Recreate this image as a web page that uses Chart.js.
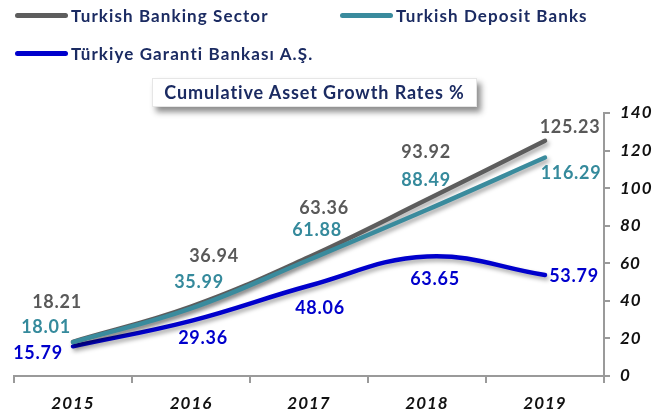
<!DOCTYPE html>
<html>
<head>
<meta charset="utf-8">
<script src="https://cdn.jsdelivr.net/npm/chart.js@4"></script>
<style>
  body { margin: 0; background: #fff; }
  #wrap { position: relative; width: 667px; height: 412px; font-family: Lato, sans-serif; }
  #wrap canvas { position: absolute; left: 0; top: 0; }
  .leg { position: absolute; display: flex; align-items: center; font-weight: bold; font-size: 17px; letter-spacing: 1.1px; color: #1b2b62; white-space: nowrap; }
  .leg span.ln { display: inline-block; width: 53px; height: 5px; border-radius: 3px; margin-right: 3px; }
  #title { position: absolute; left: 152px; top: 78px; width: 325px; height: 29px; background: #fff;
    border: 1px solid #e6e6e6; box-shadow: 4px 5px 6px rgba(0,0,0,0.45); box-sizing: border-box;
    font-weight: bold; font-size: 18px; letter-spacing: 0.9px; color: #1b2b62; text-align: center; line-height: 27px; }
</style>
</head>
<body>
<div id="wrap">
  <canvas id="chart" width="667" height="412"></canvas>
  <div class="leg" style="left:15px;top:5px"><span class="ln" style="background:#5d5d5d"></span>Turkish Banking Sector</div>
  <div class="leg" style="left:340px;top:5px"><span class="ln" style="background:#3a8b9d"></span>Turkish Deposit Banks</div>
  <div class="leg" style="left:15px;top:43px"><span class="ln" style="background:#0000cc"></span>Türkiye Garanti Bankası A.Ş.</div>
  <div id="title">Cumulative Asset Growth Rates %</div>
</div>
<script>
// data
const years = ['2015', '2016', '2017', '2018', '2019'];
const bankingSector = [18.21, 36.94, 63.36, 93.92, 125.23];
const depositBanks = [18.01, 35.99, 61.88, 88.49, 116.29];
const garanti = [15.79, 29.36, 48.06, 63.65, 53.79];

// where each value label sits relative to its point (px)
const grayOffsets = [[-16, -40], [23, -50], [15, -49], [-1, -47], [25, -14]];
const tealOffsets = [[-27, -15], [8, -26], [8, -30], [-1, -30], [26, 16]];
const blueOffsets = [[-35, 7], [12, 17], [11, 22], [8, 23], [29, 1]];

// wider text, the original font is a wide geometric one
const spacing = {
  id: 'spacing',
  beforeDraw(chart) {
    chart.ctx.letterSpacing = '1px';
  }
};

const lineShadow = {
  id: 'lineShadow',
  beforeDatasetDraw(chart) {
    const ctx = chart.ctx;
    ctx.save();
    ctx.shadowColor = 'rgba(0,0,0,0.35)';
    ctx.shadowBlur = 4;
    ctx.shadowOffsetX = 2;
    ctx.shadowOffsetY = 3;
  },
  afterDatasetDraw(chart) {
    chart.ctx.restore();
  }
};

// simple value labels, no datalabels plugin available
const valueLabels = {
  id: 'valueLabels',
  afterDatasetsDraw(chart) {
    const ctx = chart.ctx;
    ctx.save();
    ctx.font = 'bold 18px Lato';
    ctx.letterSpacing = '0.7px';
    ctx.textAlign = 'center';
    ctx.textBaseline = 'middle';
    chart.data.datasets.forEach((ds, i) => {
      const meta = chart.getDatasetMeta(i);
      ctx.fillStyle = ds.labelColor;
      meta.data.forEach((pt, j) => {
        const off = ds.labelOffsets[j];
        ctx.fillText(ds.data[j].toFixed(2), pt.x + off[0], pt.y + off[1]);
      });
    });
    ctx.restore();
  }
};

new Chart(document.getElementById('chart'), {
  type: 'line',
  data: {
    labels: years,
    datasets: [
      {
        label: 'Turkish Banking Sector',
        data: bankingSector,
        borderColor: '#5d5d5d',
        labelColor: '#595959',
        labelOffsets: grayOffsets,
        order: 2,
      },
      {
        label: 'Turkish Deposit Banks',
        data: depositBanks,
        borderColor: '#3a8b9d',
        labelColor: '#358a9c',
        labelOffsets: tealOffsets,
        order: 1,
      },
      {
        label: 'Türkiye Garanti Bankası A.Ş.',
        data: garanti,
        borderColor: '#0000cc',
        labelColor: '#0000cc',
        labelOffsets: blueOffsets,
        order: 3,
      },
    ],
  },
  options: {
    responsive: false,
    animation: false,
    layout: { padding: { left: 14, top: 113, right: 0, bottom: 0 } },
    elements: {
      line: { borderWidth: 4.5, tension: 0.4, borderCapStyle: 'round', fill: false },
      point: { radius: 0 },
    },
    plugins: {
      legend: { display: false },
      tooltip: { enabled: false },
    },
    scales: {
      x: {
        offset: true,
        grid: { offset: true, drawOnChartArea: false, drawTicks: true, tickLength: 7, color: '#9a9a9a', lineWidth: 2 },
        border: { color: '#9a9a9a', width: 2 },
        ticks: { color: '#111', padding: 10, font: { family: 'Lato', size: 17, weight: 'bold', style: 'italic' } },
        afterFit(scale) { scale.height = 36; },
      },
      y: {
        position: 'right',
        min: 0,
        max: 140,
        ticks: { stepSize: 20, color: '#111', padding: 10, font: { family: 'Lato', size: 17, weight: 'bold', style: 'italic' } },
        grid: { drawOnChartArea: false, drawTicks: true, tickLength: 6, color: '#9a9a9a', lineWidth: 2 },
        border: { color: '#9a9a9a', width: 2 },
        afterFit(scale) { scale.width = 63; },
      },
    },
  },
  plugins: [spacing, lineShadow, valueLabels],
});
</script>
</body>
</html>
